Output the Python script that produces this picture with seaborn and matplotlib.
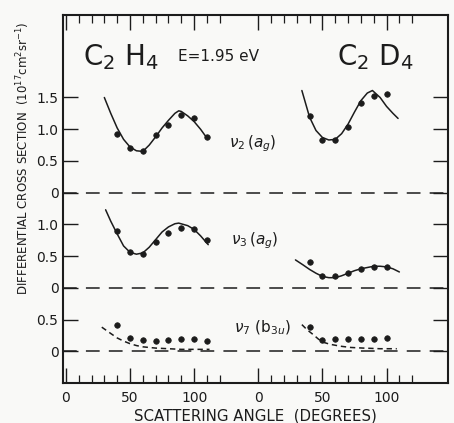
import numpy as np
import pandas as pd
import matplotlib
matplotlib.use("Agg")
import matplotlib.pyplot as plt
import seaborn as sns

# ---------------- data ----------------
OFFSET_D4 = 150          # horizontal offset of the C2D4 block (degrees)
Y_OFF = {"nu2": 2.5, "nu3": 1.0, "nu7": 0.0}   # vertical offsets of the three panels

pt_angles = [40, 50, 60, 70, 80, 90, 100, 110]
pt_angles_d4 = [40, 50, 60, 70, 80, 90, 100]

# measured points
h4_nu2 = [0.93, 0.71, 0.66, 0.91, 1.07, 1.22, 1.17, 0.87]
h4_nu3 = [0.89, 0.56, 0.54, 0.73, 0.87, 0.94, 0.92, 0.76]
h4_nu7 = [0.42, 0.21, 0.18, 0.16, 0.17, 0.20, 0.20, 0.16]
d4_nu2 = [1.21, 0.83, 0.83, 1.03, 1.42, 1.52, 1.56]
d4_nu3 = [0.40, 0.19, 0.18, 0.23, 0.30, 0.33, 0.33]
d4_nu7 = [0.39, 0.18, 0.19, 0.20, 0.20, 0.20, 0.21]

# theory curves
h4_nu2_cx = [30, 35, 40, 45, 50, 55, 60, 65, 70, 75, 80, 85, 88, 90, 95, 100, 105, 110]
h4_nu2_cy = [1.50, 1.25, 1.02, 0.84, 0.72, 0.66, 0.65, 0.75, 0.88, 1.02, 1.14, 1.25, 1.29, 1.28, 1.21, 1.12, 1.00, 0.86]
d4_nu2_cx = [34, 37, 40, 45, 50, 55, 60, 65, 70, 75, 80, 85, 89, 95, 100, 105, 109]
d4_nu2_cy = [1.61, 1.40, 1.19, 0.98, 0.87, 0.83, 0.84, 0.93, 1.08, 1.27, 1.45, 1.57, 1.61, 1.50, 1.36, 1.25, 1.17]
h4_nu3_cx = [31, 35, 40, 45, 50, 55, 60, 65, 70, 75, 80, 85, 88, 95, 100, 105, 111]
h4_nu3_cy = [1.23, 1.05, 0.85, 0.66, 0.56, 0.53, 0.55, 0.64, 0.76, 0.88, 0.96, 1.01, 1.02, 0.98, 0.92, 0.82, 0.68]
d4_nu3_cx = [29, 35, 40, 45, 50, 55, 60, 65, 70, 75, 80, 85, 90, 95, 100, 105, 110]
d4_nu3_cy = [0.44, 0.36, 0.29, 0.23, 0.18, 0.16, 0.16, 0.19, 0.23, 0.27, 0.30, 0.32, 0.34, 0.34, 0.33, 0.30, 0.25]
h4_nu7_cx = [28, 35, 40, 45, 50, 55, 60, 70, 80, 90, 100, 112]
h4_nu7_cy = [0.38, 0.28, 0.21, 0.16, 0.12, 0.09, 0.07, 0.05, 0.04, 0.03, 0.03, 0.03]
d4_nu7_cx = [34, 38, 43, 47, 51, 56, 64, 72, 82, 95, 108]
d4_nu7_cy = [0.42, 0.34, 0.26, 0.19, 0.14, 0.11, 0.08, 0.06, 0.05, 0.04, 0.04]

xtick_pos = [0, 50, 100, 150, 200, 250]
xtick_labels = ["0", "50", "100", "0", "50", "100"]
ytick_pos = [0, 0.5, 1.0, 1.5, 2.0, 2.5, 3.0, 3.5, 4.0]
ytick_labels = ["0", "0.5", "0", "0.5", "1.0", "0", "0.5", "1.0", "1.5"]

# ---------------- build tables ----------------
pts = []
for name, ang, vals, dx in [
    ("nu2", pt_angles, h4_nu2, 0), ("nu3", pt_angles, h4_nu3, 0), ("nu7", pt_angles, h4_nu7, 0),
    ("nu2", pt_angles_d4, d4_nu2, OFFSET_D4), ("nu3", pt_angles_d4, d4_nu3, OFFSET_D4),
    ("nu7", pt_angles_d4, d4_nu7, OFFSET_D4)]:
    for a, v in zip(ang, vals):
        pts.append({"x": a + dx, "y": v + Y_OFF[name]})
pts = pd.DataFrame(pts)

curves = []
for cid, (name, cx, cy, dx, style) in enumerate([
    ("nu2", h4_nu2_cx, h4_nu2_cy, 0, "solid"), ("nu2", d4_nu2_cx, d4_nu2_cy, OFFSET_D4, "solid"),
    ("nu3", h4_nu3_cx, h4_nu3_cy, 0, "solid"), ("nu3", d4_nu3_cx, d4_nu3_cy, OFFSET_D4, "solid"),
    ("nu7", h4_nu7_cx, h4_nu7_cy, 0, "dash"), ("nu7", d4_nu7_cx, d4_nu7_cy, OFFSET_D4, "dash")]):
    for a, v in zip(cx, cy):
        curves.append({"x": a + dx, "y": v + Y_OFF[name], "cid": cid, "style": style})
curves = pd.DataFrame(curves)

# ---------------- plot ----------------
sns.set_style("ticks")
plt.rcParams["font.family"] = ["DejaVu Sans"]
ink = "#1c1c1c"
bg = "#f9f9f7"

fig = plt.figure(figsize=(4.54, 4.23), dpi=100, facecolor=bg)
ax = fig.add_axes([0.138, 0.0946, 0.849, 0.8699], facecolor=bg)

for cid, sub in curves.groupby("cid"):
    dashed = sub["style"].iloc[0] == "dash"
    sns.lineplot(data=sub, x="x", y="y", ax=ax, color=ink, lw=1.1, sort=False,
                 linestyle=(0, (3.5, 2.5)) if dashed else "-", legend=False)

sns.scatterplot(data=pts, x="x", y="y", ax=ax, color=ink, s=16, edgecolor=ink,
                linewidth=0.5, legend=False, zorder=5)

# zero reference lines
for off in Y_OFF.values():
    ax.axhline(off, color=ink, lw=1.1, ls=(0, (9, 6)))

ax.set_xlim(-2.5, 298)
ax.set_ylim(-0.5, 5.3)

ax.set_xticks(xtick_pos)
ax.set_xticklabels(xtick_labels, fontsize=10, color=ink)
minor = [a for a in range(10, 130, 10)] + [a + OFFSET_D4 for a in range(0, 130, 10)]
ax.set_xticks(minor, minor=True)
ax.tick_params(axis="x", which="major", direction="in", length=11, width=1.0,
               top=True, bottom=True, pad=6, colors=ink)
ax.tick_params(axis="x", which="minor", direction="in", length=6, width=0.9,
               top=True, bottom=True, colors=ink)

ax.set_yticks(ytick_pos)
ax.set_yticklabels(ytick_labels, fontsize=10, color=ink)
ax.tick_params(axis="y", which="major", direction="in", length=11, width=1.0,
               left=True, right=True, pad=3, colors=ink)

for s in ax.spines.values():
    s.set_color(ink)
    s.set_linewidth(1.5)

ax.set_xlabel("SCATTERING ANGLE  (DEGREES)", fontsize=10.8, color=ink, labelpad=2)
ax.set_ylabel("DIFFERENTIAL CROSS SECTION  (10$^{17}$cm$^{2}$sr$^{-1}$)",
              fontsize=8.5, color=ink)
ax.yaxis.set_label_coords(-0.08, 0.61)

ax.text(43, 4.64, "C$_2$ H$_4$", fontsize=20, ha="center", va="center", color=ink)
ax.text(119, 4.64, "E=1.95 eV", fontsize=11, ha="center", va="center", color=ink)
ax.text(241, 4.64, "C$_2$ D$_4$", fontsize=20, ha="center", va="center", color=ink)
ax.text(146, 3.27, r"$\nu_2\,(a_g)$", fontsize=11, ha="center", va="center", color=ink)
ax.text(147, 1.74, r"$\nu_3\,(a_g)$", fontsize=11, ha="center", va="center", color=ink)
ax.text(153, 0.37, r"$\nu_7$ (b$_{3u}$)", fontsize=11, ha="center", va="center", color=ink)

fig.savefig("out.png", dpi=100, facecolor=bg)
